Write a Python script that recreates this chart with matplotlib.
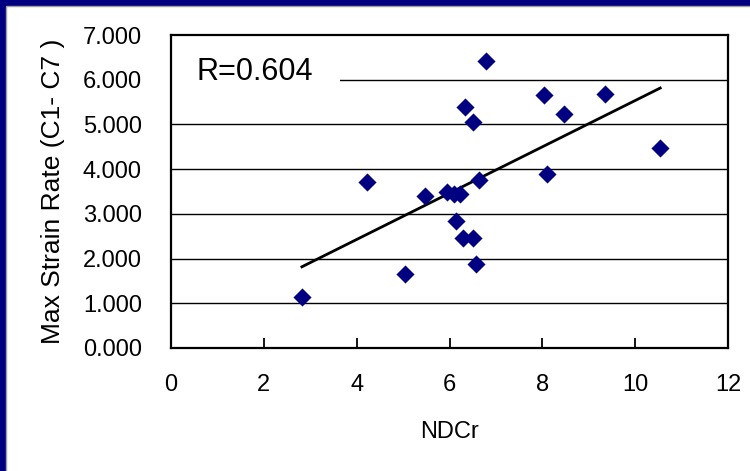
import numpy as np
import matplotlib
matplotlib.use("Agg")
import matplotlib.pyplot as plt
from matplotlib.patches import Rectangle

# ---- data ----
ndcr = [2.82, 4.22, 5.04, 5.48, 5.94, 6.09, 6.22, 6.13, 6.30, 6.51,
        6.58, 6.64, 6.33, 6.51, 6.79, 8.03, 8.09, 8.47, 9.34, 10.54]
strain = [1.15, 3.71, 1.65, 3.39, 3.50, 3.44, 3.45, 2.84, 2.45, 2.47,
          1.88, 3.76, 5.38, 5.06, 6.42, 5.66, 3.90, 5.24, 5.69, 4.47]
x_ticks = [0, 2, 4, 6, 8, 10, 12]
y_ticks = [0, 1, 2, 3, 4, 5, 6, 7]
y_tick_labels = ["0.000", "1.000", "2.000", "3.000", "4.000", "5.000", "6.000", "7.000"]
r_label = "R=0.604"
x_label = "NDCr"
y_label = "Max Strain Rate (C1- C7 )"

plt.rcParams['font.family'] = ['Liberation Sans', 'DejaVu Sans']

W, H = 750, 471
fig = plt.figure(figsize=(W / 100, H / 100), dpi=100)
fig.patch.set_facecolor('#000080')
# white panel with gray edge inside the navy frame
fig.patches.append(Rectangle((6 / W, -0.05), 1.1, 1.05 - 6 / H, transform=fig.transFigure,
                             facecolor='white', edgecolor='#a0a0a0', linewidth=1.0,
                             zorder=-5))

ax = fig.add_axes([171 / W, 1 - 348 / H, 557 / W, 313 / H])
ax.set_zorder(1)
ax.set_facecolor('white')
ax.set_xlim(0, 12)
ax.set_ylim(0, 7)

for v in y_ticks[1:-1]:
    ax.axhline(v, color='black', linewidth=1.0, zorder=1)

ax.scatter(ndcr, strain, marker='D', s=85, color='#000080', zorder=3, linewidths=0)

xs = np.array(ndcr)
slope, intercept = np.polyfit(xs, np.array(strain), 1)
xl = np.array([xs.min(), xs.max()])
ax.plot(xl, slope * xl + intercept, color='black', linewidth=2.0, zorder=2.8)

ax.text(0.045, 0.882, r_label, transform=ax.transAxes, fontsize=22, ha='left',
        va='center', zorder=2,
        bbox=dict(facecolor='white', edgecolor='none', boxstyle='square,pad=0.9'))

ax.set_xticks(x_ticks)
ax.set_xticklabels([str(t) for t in x_ticks])
ax.set_yticks(y_ticks)
ax.set_yticklabels(y_tick_labels)
ax.tick_params(axis='x', direction='in', length=7, width=1.3, pad=19, labelsize=17)
ax.tick_params(axis='y', length=0, pad=21, labelsize=17)
for sp in ax.spines.values():
    sp.set_linewidth(1.6)
    sp.set_zorder(2.5)

ax.set_xlabel(x_label, fontsize=17, labelpad=18)
ax.set_ylabel(y_label, fontsize=19, labelpad=13)

fig.savefig("out.png", dpi=100, facecolor=fig.get_facecolor())
